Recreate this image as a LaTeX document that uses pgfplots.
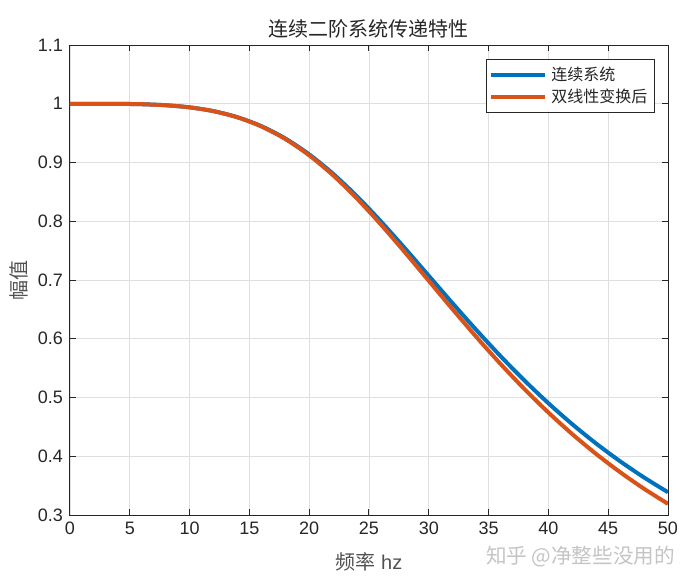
\documentclass[border=0pt]{standalone}
\usepackage{fontspec}
\setmainfont{Liberation Sans}
\newfontfamily\cjk{Noto Sans CJK SC}
\usepackage{pgfplots}
\pgfplotsset{compat=1.18}

\definecolor{mblue}{RGB}{0,114,189}
\definecolor{morange}{RGB}{217,83,25}
\definecolor{mtext}{RGB}{38,38,38}
\definecolor{mgrid}{RGB}{223,223,223}

\begin{document}
\begin{tikzpicture}
\path[use as bounding box] (-35pt,-35pt) rectangle (315pt,257.5pt);
\begin{axis}[
    scale only axis,
    width=299pt,
    height=235pt,
    xmin=0, xmax=50,
    ymin=0.3, ymax=1.1,
    xtick={0,5,...,50},
    ytick={0.3,0.4,...,1.1},
    clip mode=individual,
    tick align=inside,
    tick pos=both,
    major tick length=3pt,
    grid=major,
    major grid style={mgrid, line width=0.4pt},
    axis line style={mtext, line width=0.5pt},
    tick style={mtext, line width=0.5pt},
    ticklabel style={font=\fontsize{9}{10}\selectfont, text=mtext},
    /pgf/number format/assume math mode=true,
    /pgf/number format/fixed,
    title={\cjk 连续二阶系统传递特性},
    title style={font=\fontsize{10}{11}\selectfont, text=mtext, yshift=-6pt},
    xlabel={{\cjk 频率} hz},
    ylabel={\cjk 幅值},
    label style={font=\fontsize{10}{11}\selectfont, text=mtext!80!white},
    xlabel style={yshift=-2pt},
    ylabel style={yshift=-2pt},
    legend style={at={(rel axis cs:0.978,0.97)}, anchor=north east,
        font=\cjk\fontsize{8}{9.5}\selectfont, draw=mtext, line width=0.4pt,
        inner sep=1.5pt, row sep=-1pt, text=mtext},
    legend cell align=left,
    legend image code/.code={\draw[#1, line width=2pt] (0cm,0cm) -- (0.95cm,0cm);},
]
\addplot[mblue, line width=2pt, smooth] coordinates {
(0,1.00000) (2,0.99999) (4,0.99984) (6,0.99920) (8,0.99749) (10,0.99388)
(12,0.98744) (14,0.97710) (16,0.96185) (18,0.94089) (20,0.91381)
(22,0.88072) (24,0.84228) (26,0.79957) (28,0.75403) (30,0.70711)
(32,0.66016) (34,0.61432) (36,0.57039) (38,0.52894) (40,0.49026)
(42,0.45447) (44,0.42155) (46,0.39140) (48,0.36385) (50,0.33872)
};
\addlegendentry{连续系统}
\addplot[morange, line width=2pt, smooth] coordinates {
(0,1.00000) (2,0.99999) (4,0.99984) (6,0.99919) (8,0.99746) (10,0.99384)
(12,0.98735) (14,0.97687) (16,0.96136) (18,0.93996) (20,0.91221)
(22,0.87817) (24,0.83851) (26,0.79437) (28,0.74722) (30,0.69861)
(32,0.64999) (34,0.60254) (36,0.55712) (38,0.51432) (40,0.47444)
(42,0.43761) (44,0.40379) (46,0.37287) (48,0.34466) (50,0.31897)
};
\addlegendentry{双线性变换后}
\node[anchor=east, text=black!23, font=\cjk\fontsize{10.3}{11}\selectfont]
    at ([xshift=7pt,yshift=-21pt]rel axis cs:1,0) {知乎 @净整些没用的};
\end{axis}
\end{tikzpicture}
\end{document}
